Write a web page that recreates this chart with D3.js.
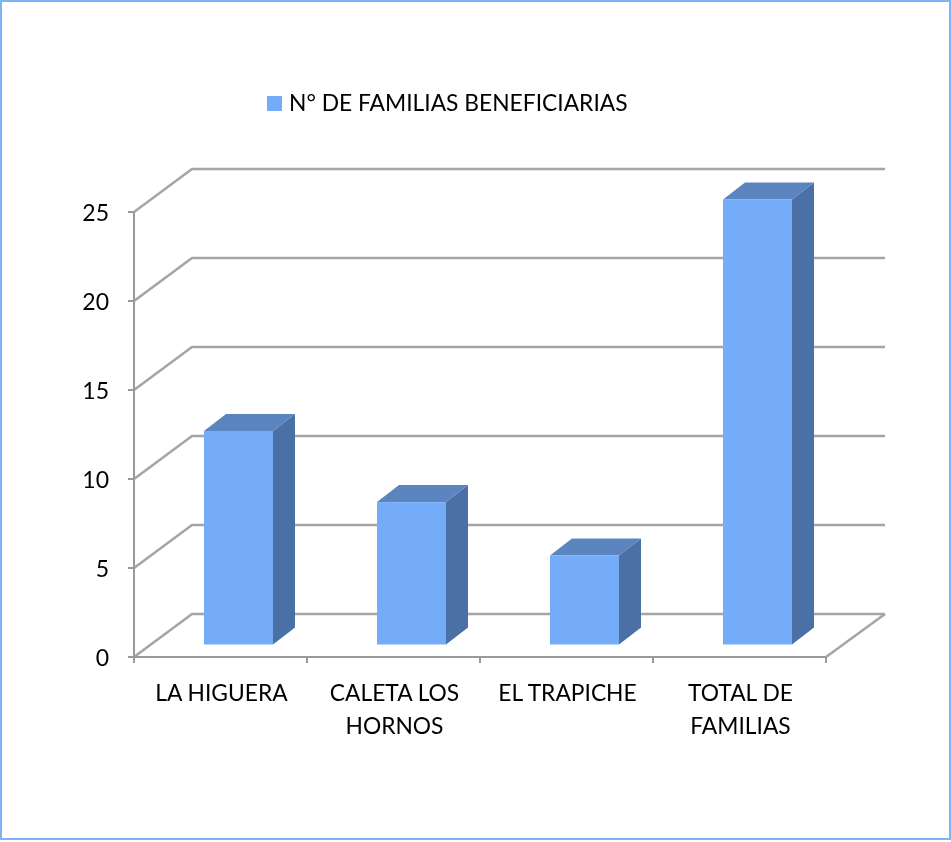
<!DOCTYPE html>
<html>
<head>
<meta charset="utf-8">
<script src="https://cdnjs.cloudflare.com/ajax/libs/d3/7.8.5/d3.min.js"></script>
<style>
  html, body { margin: 0; padding: 0; background: #fff; }
  svg { display: block; filter: blur(0.45px); }
  text { font-family: Lato, "Open Sans", sans-serif; fill: #000; }
</style>
</head>
<body>
<svg id="chart" width="951" height="842"></svg>
<script>
// Data
const categories = ["LA HIGUERA", "CALETA LOS HORNOS", "EL TRAPICHE", "TOTAL DE FAMILIAS"];
const categoryLines = [["LA HIGUERA"], ["CALETA LOS", "HORNOS"], ["EL TRAPICHE"], ["TOTAL DE", "FAMILIAS"]];
const familias = [12, 8, 5, 25];
const yTicks = [0, 5, 10, 15, 20, 25];
const seriesName = "N° DE FAMILIAS BENEFICIARIAS";

const svg = d3.select("svg#chart");

// Colors
const front = "#75acfa", top_ = "#5a85bf", side = "#4a70a6", grid = "#a5a5a5", border = "#7fb3f7";

// Frame
svg.append("rect")
  .attr("x", 1).attr("y", 1)
  .attr("width", 949).attr("height", 838)
  .attr("fill", "none")
  .attr("stroke", border)
  .attr("stroke-width", 2);

// Scales
const x = d3.scaleBand().domain(categories).range([134, 826]);
const y = d3.scaleLinear().domain([0, 25]).range([657, 212]);

// Depth of the walls and of the bars
const wallDx = 58, wallDy = -43;
const barDx = 22, barDy = -17;
const barWidth = 69;
const barX = d => x(d) + 70;
const barBase = y(0) - 12.5;

// Grid lines
const gridG = svg.append("g")
  .attr("fill", "none")
  .attr("stroke", grid)
  .attr("stroke-width", 2.5);

gridG.selectAll("path")
  .data(yTicks)
  .join("path")
  .attr("d", d => d3.line()([
    [x.range()[0], y(d)],
    [x.range()[0] + wallDx, y(d) + wallDy],
    [x.range()[1] + wallDx + 1, y(d) + wallDy]
  ]));

// Floor edge on the right side
gridG.append("path")
  .attr("d", d3.line()([
    [x.range()[1], y(0)],
    [x.range()[1] + wallDx + 1, y(0) + wallDy]
  ]));

// Axes
const axisG = svg.append("g")
  .attr("fill", "none")
  .attr("stroke", "#999")
  .attr("stroke-width", 2);

axisG.append("line")
  .attr("x1", 134).attr("x2", 134)
  .attr("y1", y(25)).attr("y2", y(0) + 6);

axisG.append("line")
  .attr("x1", 128).attr("x2", x.range()[1])
  .attr("y1", y(0)).attr("y2", y(0));

axisG.selectAll("line.ytick")
  .data(yTicks.slice(1))
  .join("line")
  .attr("class", "ytick")
  .attr("x1", 128).attr("x2", 134)
  .attr("y1", d => y(d)).attr("y2", d => y(d));

axisG.selectAll("line.xtick")
  .data(categories)
  .join("line")
  .attr("class", "xtick")
  .attr("x1", d => x(d) + x.step()).attr("x2", d => x(d) + x.step())
  .attr("y1", y(0)).attr("y2", y(0) + 6);

// Bars
const h = y(0) - y(1);
const bars = svg.selectAll("g.bar")
  .data(categories.map((c, i) => ({ c: c, v: familias[i] })))
  .join("g")
  .attr("class", "bar");

bars.append("path")
  .attr("fill", side)
  .attr("d", d => {
    const r = barX(d.c) + barWidth, t = barBase - d.v * h;
    return d3.line()([[r, t], [r + barDx, t + barDy], [r + barDx, barBase + barDy], [r, barBase]]) + "Z";
  });

bars.append("path")
  .attr("fill", top_)
  .attr("d", d => {
    const l = barX(d.c), t = barBase - d.v * h;
    return d3.line()([[l, t], [l + barDx, t + barDy], [l + barWidth + barDx, t + barDy], [l + barWidth, t]]) + "Z";
  });

bars.append("rect")
  .attr("fill", front)
  .attr("x", d => barX(d.c))
  .attr("y", d => barBase - d.v * h)
  .attr("width", barWidth)
  .attr("height", d => d.v * h);

// Y labels
svg.selectAll("text.ylabel")
  .data(yTicks)
  .join("text")
  .attr("class", "ylabel")
  .attr("x", 109)
  .attr("y", d => y(d) + 9)
  .attr("text-anchor", "end")
  .style("font-size", "23px")
  .text(d => d);

// X labels
const xLabels = svg.selectAll("text.xlabel")
  .data(categories)
  .join("text")
  .attr("class", "xlabel")
  .attr("text-anchor", "middle")
  .style("font-size", "22.8px");

xLabels.selectAll("tspan")
  .data((d, i) => categoryLines[i].map(l => ({ l: l, c: d })))
  .join("tspan")
  .attr("x", d => x(d.c) + x.step() / 2 + 1)
  .attr("y", (d, i) => 701 + i * 33)
  .text(d => d.l);

// Legend
svg.append("rect")
  .attr("x", 267).attr("y", 96)
  .attr("width", 15).attr("height", 15)
  .attr("fill", front);

svg.append("text")
  .attr("x", 289).attr("y", 111)
  .style("font-size", "22.8px")
  .text(seriesName);
</script>
</body>
</html>
